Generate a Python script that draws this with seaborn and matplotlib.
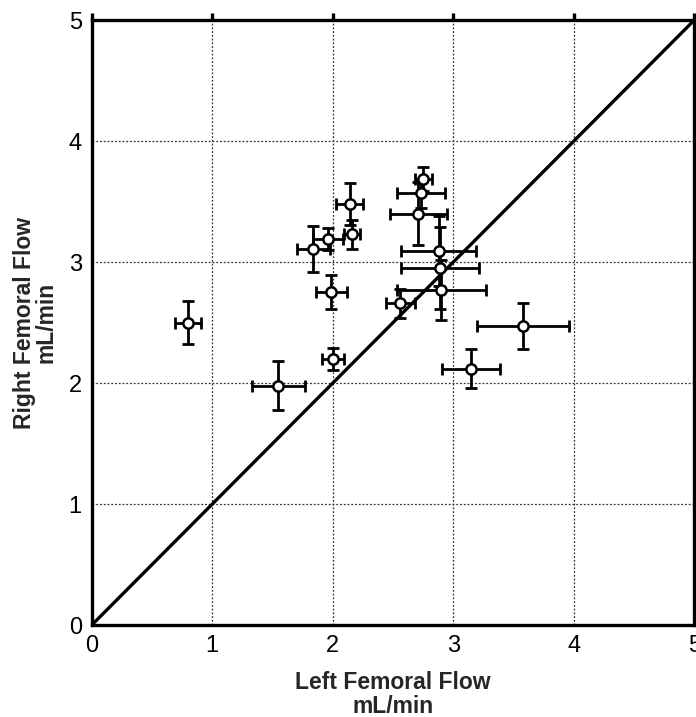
import matplotlib
matplotlib.use("Agg")
import matplotlib.pyplot as plt
import seaborn as sns
import pandas as pd

left_flow = [0.80, 1.55, 2.00, 1.99, 2.14, 2.16, 1.96, 1.84, 2.75, 2.73, 2.71, 2.88, 2.89, 2.90, 2.56, 3.58, 3.15]
right_flow = [2.50, 1.98, 2.20, 2.75, 3.48, 3.23, 3.19, 3.11, 3.69, 3.57, 3.40, 3.09, 2.95, 2.77, 2.66, 2.47, 2.12]
left_err = [0.11, 0.22, 0.09, 0.13, 0.11, 0.07, 0.125, 0.135, 0.07, 0.20, 0.235, 0.31, 0.32, 0.37, 0.12, 0.38, 0.24]
right_err = [0.18, 0.20, 0.09, 0.14, 0.17, 0.12, 0.09, 0.19, 0.10, 0.12, 0.26, 0.29, 0.34, 0.25, 0.12, 0.19, 0.16]
ticks = [0, 1, 2, 3, 4, 5]

df = pd.DataFrame({"left": left_flow, "right": right_flow, "lerr": left_err, "rerr": right_err})

sns.set_style("white")
plt.rcParams["font.family"] = ["Liberation Sans", "DejaVu Sans"]

fig = plt.figure(figsize=(6.96, 7.17), dpi=100)
ax = fig.add_axes([0.1316, 0.128, 0.866, 0.844])

# grid
for t in ticks[1:-1]:
    ax.axvline(t, color="#333333", lw=0.9, ls=(0, (1.5, 1.5)), zorder=0)
    ax.axhline(t, color="#333333", lw=0.9, ls=(0, (1.5, 1.5)), zorder=0)

# identity line
sns.lineplot(x=[0, 5], y=[0, 5], color="black", lw=2.4, ax=ax, zorder=2)

ax.errorbar(df["left"], df["right"], xerr=df["lerr"], yerr=df["rerr"], fmt="none",
            ecolor="black", elinewidth=2.0, capsize=4.6, capthick=2.0, zorder=3)
sns.scatterplot(data=df, x="left", y="right", marker="o", s=55, facecolor="white",
                edgecolor="black", linewidth=1.8, ax=ax, zorder=4)

ax.set_xlim(0, 5)
ax.set_ylim(0, 5)
ax.set_xticks(ticks)
ax.set_yticks(ticks)
ax.set_xticklabels([str(t) for t in ticks])
ax.set_yticklabels([str(t) for t in ticks])

for s in ax.spines.values():
    s.set_linewidth(2.4)
    s.set_color("black")

ax.tick_params(axis="both", direction="out", length=5, width=2.4, labelsize=17, color="black",
               labelcolor="black", pad=2)
ax.tick_params(axis="x", top=True, labeltop=False)

ax.set_xlabel("Left Femoral Flow\nmL/min", fontsize=16.5, fontweight="bold", labelpad=10, linespacing=1.05)
ax.set_ylabel("Right Femoral Flow\nmL/min", fontsize=16.5, fontweight="bold", labelpad=8, linespacing=0.95)

fig.savefig("out.png", dpi=100, facecolor="white")
